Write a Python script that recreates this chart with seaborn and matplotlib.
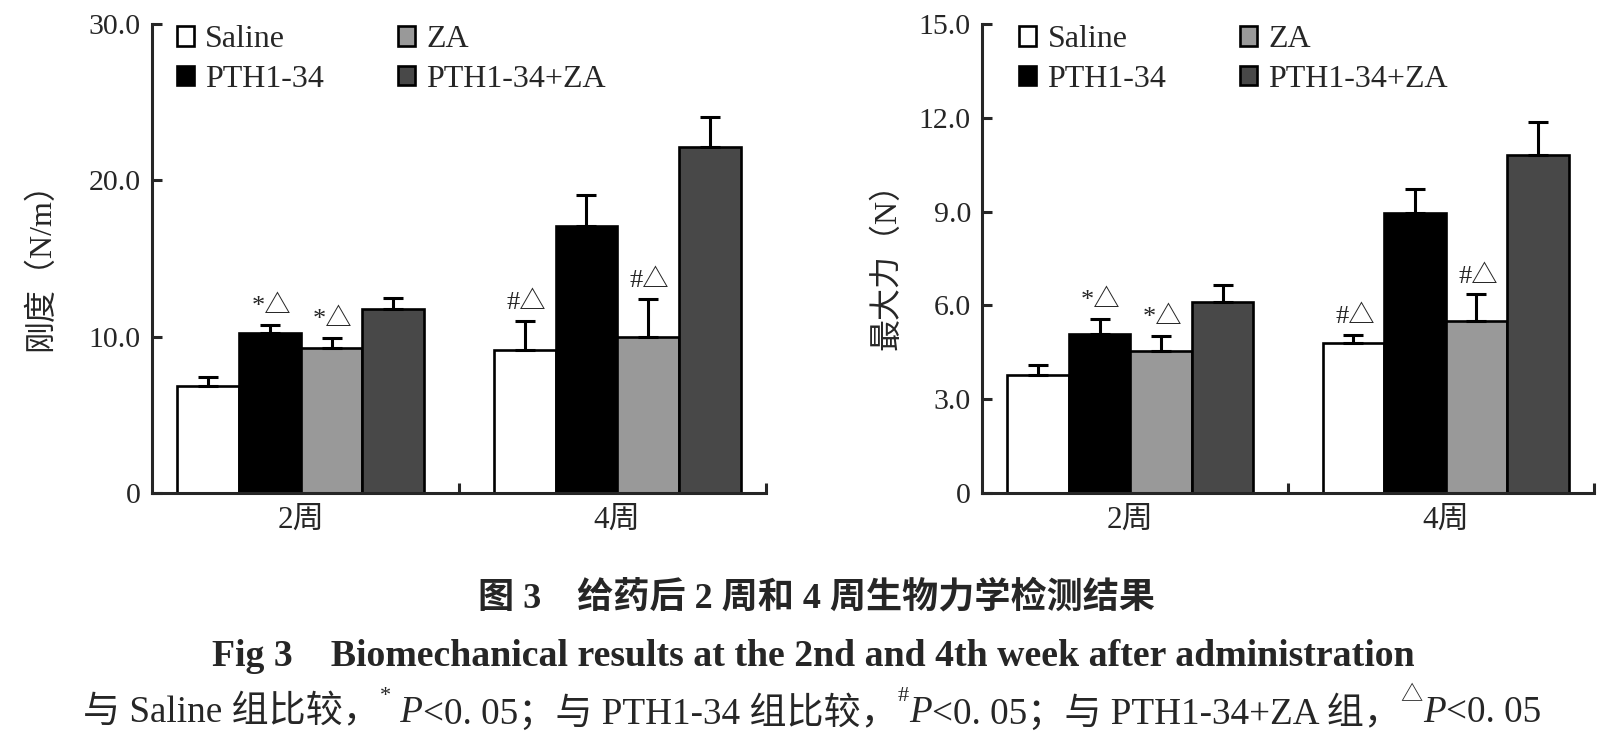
import numpy as np
import pandas as pd
import matplotlib
matplotlib.use('Agg')
import matplotlib.pyplot as plt
import seaborn as sns

# data
weeks = ['2周', '4周']
groups = ['Saline', 'PTH1-34', 'ZA', 'PTH1-34+ZA']
colors = ['#ffffff', '#000000', '#999999', '#484848']

stiff_2w = [6.86, 10.25, 9.30, 11.77]
stiff_2w_err = [0.56, 0.52, 0.61, 0.73]
stiff_4w = [9.13, 17.09, 10.01, 22.15]
stiff_4w_err = [1.90, 1.97, 2.38, 1.92]

force_2w = [3.78, 5.10, 4.54, 6.12]
force_2w_err = [0.32, 0.46, 0.47, 0.53]
force_4w = [4.80, 8.96, 5.50, 10.80]
force_4w_err = [0.24, 0.77, 0.85, 1.08]

# significance marks: (week index, group index, text)
marks = [(0, 1, '*△'), (0, 2, '*△'), (1, 0, '#△'), (1, 2, '#△')]

sns.set_style('ticks')
plt.rcParams['font.family'] = ['Liberation Serif', 'Noto Sans CJK SC', 'DejaVu Sans']
plt.rcParams['axes.unicode_minus'] = False

LW = 2.2


def make_df(v2, v4):
    rows = []
    for g, a, b in zip(groups, v2, v4):
        rows.append((weeks[0], g, a))
        rows.append((weeks[1], g, b))
    return pd.DataFrame(rows, columns=['week', 'group', 'value'])


def draw_panel(ax, df, err2, err4, ymax, yticks, ylabel, leg_x, ylab_x):
    sns.barplot(data=df, x='week', y='value', hue='group', hue_order=groups,
                order=weeks, palette=colors, edgecolor='black', linewidth=1.9,
                width=0.78, gap=0, errorbar=None, ax=ax, saturation=1)
    bars = list(ax.containers)
    errs = [err2, err4]
    for gi, cont in enumerate(bars):
        xs = [b.get_x() + b.get_width() / 2 for b in cont]
        hs = [b.get_height() for b in cont]
        e = [errs[0][gi], errs[1][gi]]
        ax.errorbar(xs, hs, yerr=[[0, 0], e], fmt='none', ecolor='black',
                    elinewidth=LW, capsize=7, capthick=LW, zorder=1)
    for wi, gi, txt in marks:
        b = bars[gi][wi]
        top = b.get_height() + errs[wi][gi]
        ax.annotate(txt, (b.get_x() + b.get_width() / 2, top),
                    xytext=(1, 5), textcoords='offset points',
                    ha='center', va='bottom', fontsize=19)
    ax.set_xlim(-0.47, 1.47)
    ax.set_ylim(0, ymax)
    ax.set_yticks(yticks)
    ax.set_yticklabels(['0'] + ['%.1f' % t for t in yticks[1:]])
    ax.set_xticks([0, 1])
    ax.set_xticklabels(weeks)
    ax.set_xticks([0.5, 1.47], minor=True)
    ax.tick_params(axis='x', which='major', length=0, pad=9, labelsize=22.5)
    ax.tick_params(axis='x', which='minor', direction='in', length=7, width=LW)
    ax.tick_params(axis='y', direction='in', length=7, width=LW, labelsize=21.5, pad=8)
    for s in ['top', 'right']:
        ax.spines[s].set_visible(False)
    for s in ['left', 'bottom']:
        ax.spines[s].set_linewidth(LW)
    ax.set_xlabel('')
    ax.set_ylabel(ylabel, fontsize=23, va='center')
    ax.yaxis.set_label_coords(ylab_x, 0.5)
    h, l = ax.get_legend_handles_labels()
    ax.legend(h, l, ncol=2, loc='upper left', bbox_to_anchor=(leg_x, 0.997),
              frameon=False, fontsize=23, handlelength=0.55, handleheight=0.55,
              handletextpad=0.35, columnspacing=2.3, labelspacing=0.32,
              borderaxespad=0, borderpad=0)


fig = plt.figure(figsize=(16.21, 7.5), dpi=100)
ax1 = fig.add_axes([152 / 1621, 1 - 493 / 750, (766 - 152) / 1621, (493 - 24) / 750])
ax2 = fig.add_axes([982 / 1621, 1 - 493 / 750, (1594 - 982) / 1621, (493 - 24) / 750])

draw_panel(ax1, make_df(stiff_2w, stiff_4w), stiff_2w_err, stiff_4w_err,
           30, [0, 10, 20, 30], '刚度（N/m）', 0.04, -0.181)
draw_panel(ax2, make_df(force_2w, force_4w), force_2w_err, force_4w_err,
           15, [0, 3, 6, 9, 12, 15], '最大力（N）', 0.06, -0.155)

# captions
fig.text(0.504, 1 - 598 / 750, '图 3    给药后 2 周和 4 周生物力学检测结果',
         ha='center', va='center', fontsize=26, fontweight='bold')
fig.text(0.5016, 1 - 656 / 750,
         'Fig 3    Biomechanical results at the 2nd and 4th week after administration',
         ha='center', va='center', fontsize=27.2, fontweight='bold')

runs = [('与 Saline 组比较，', {}),
        ('*', {'sup': True}), (' P', {'style': 'italic'}),
        ('<0. 05；与 PTH1-34 组比较，', {}),
        ('#', {'sup': True}), ('P', {'style': 'italic'}),
        ('<0. 05；与 PTH1-34+ZA 组，', {}),
        ('△', {'sup': True}), ('P', {'style': 'italic'}),
        ('<0. 05', {})]


def draw_runs(y, runs, size, xc):
    renderer = fig.canvas.get_renderer()
    items = []
    for s, kw in runs:
        fs = size * 0.6 if kw.get('sup') else size
        dy = size * 0.45 / 72 / 7.5 if kw.get('sup') else 0
        t = fig.text(0, y + dy, s, fontsize=fs, va='center', ha='left',
                     fontstyle=kw.get('style', 'normal'))
        items.append(t)
    widths = [t.get_window_extent(renderer).width / fig.bbox.width for t in items]
    x = xc - sum(widths) / 2
    for t, w in zip(items, widths):
        t.set_x(x)
        x += w


draw_runs(1 - 713 / 750, runs, 26.7, 812 / 1621)

fig.savefig('out.png', dpi=100)
